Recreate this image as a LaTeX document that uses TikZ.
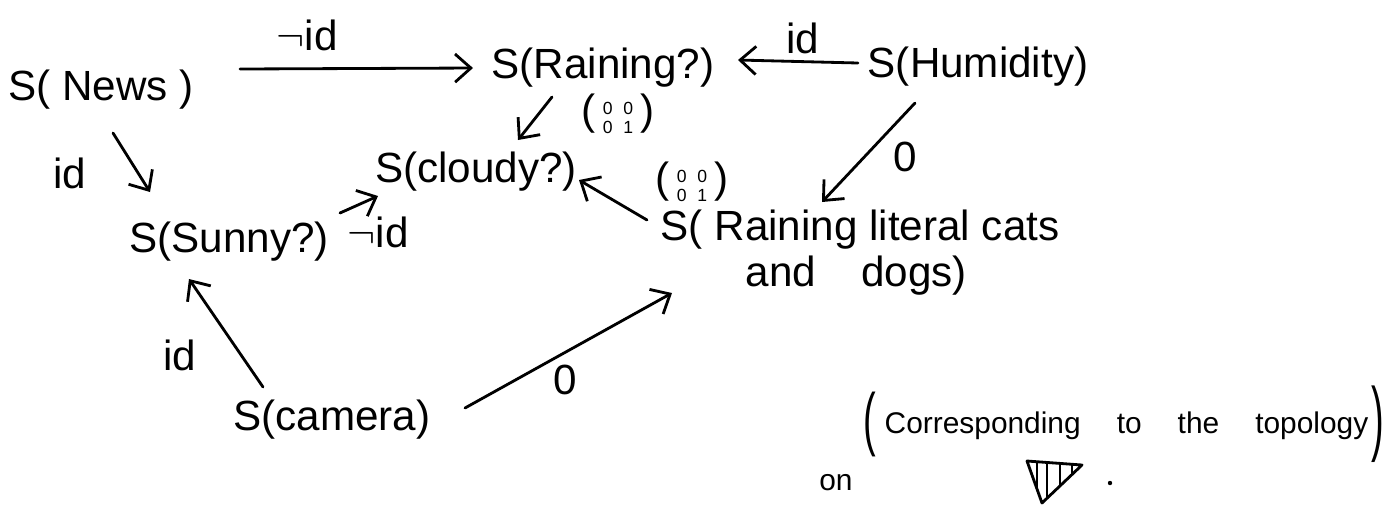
\documentclass[tikz,border=0pt]{standalone}
\usepackage{graphicx}
\usepackage{fontspec}
\setmainfont{Liberation Sans}
\usetikzlibrary{arrows.meta,calc}
\newcommand{\mymat}[4]{(\,{\fontsize{5}{6.5}\selectfont\renewcommand{\arraystretch}{0.85}\begin{tabular}{@{}c@{\hspace{3pt}}c@{}}#1&#2\\#3&#4\end{tabular}}\,)}
\begin{document}
\begin{tikzpicture}[x=0.01cm,y=-0.01cm,
  obj/.style={font=\fontsize{12}{13}\selectfont, inner sep=0pt, anchor=base},
  lbl/.style={font=\fontsize{12}{13}\selectfont, inner sep=0pt},
  note/.style={font=\fontsize{8.5}{10}\selectfont, inner sep=0pt, anchor=base},
  paren/.style={font=\fontsize{12}{12}\selectfont, inner sep=0pt},
  arr/.style={line width=0.8pt, line cap=round, -{Straight Barb[length=4.5pt,width=8pt]}},
  pen/.style={line width=0.8pt, line cap=round, line join=round},
]
\useasboundingbox (0,0) rectangle (1399,505);

% objects
\node[obj] (news)   at (101,100) {S( News )};
\node[obj] (rain)   at (603,78)  {S(Raining?)};
\node[obj] (hum)    at (978,77)  {S(Humidity)};
\node[obj] (cloudy) at (476,182) {S(cloudy?)};
\node[obj] (sunny)  at (229,252) {S(Sunny?)};
\node[obj] (camera) at (332,430) {S(camera)};
\node[obj, anchor=north west, align=left] (cats) at (660,209)
  {S( Raining literal cats\\\hspace*{0.85cm}and\hspace{0.45cm}dogs)};

% connectors
\draw[arr] ($(news.base)+(139,-31)$) -- ($(rain.base)+(-130,-10)$);
\draw[arr] ($(hum.base)+(-120,-14)$) -- ($(rain.base)+(135,-18)$);
\draw[arr] ($(rain.base)+(-51,19)$) -- ($(cloudy.base)+(42,-42)$);
\draw[arr] ($(cats.north west)+(-13,11)$) -- ($(cloudy.base)+(103,-2)$);
\draw[arr] ($(hum.base)+(-63,26)$) -- ($(cats.north west)+(162,-7)$);
\draw[arr] ($(news.base)+(12,33)$) -- ($(sunny.base)+(-79,-60)$);
\draw[arr] ($(sunny.base)+(111,-39)$) -- ($(cloudy.base)+(-98,14)$);
\draw[arr] ($(camera.base)+(-69,-43)$) -- ($(sunny.base)+(-40,27)$);
\draw[arr] ($(camera.base)+(133,-22)$) -- ($(cats.north west)+(12,84)$);

% labels
\node[lbl] (l1) at (307,35)  {$\neg$id};
\node[lbl] (l2) at (803,38)  {id};
\node[lbl] (l3) at (618,117) {\mymat{0}{0}{0}{1}};
\node[lbl] (l4) at (692,185) {\mymat{0}{0}{0}{1}};
\node[lbl] (l5) at (905,157) {0};
\node[lbl] (l6) at (70,173)  {id};
\node[lbl] (l7) at (378,232) {$\neg$id};
\node[lbl] (l8) at (180,355) {id};
\node[lbl] (l9) at (565,380) {0};

% annotation
\node[paren] (lp) at (870,424) {\scalebox{0.9}[1.65]{(}};
\node[paren] (rp) at (1378,424) {\scalebox{0.9}[1.95]{)}};
\node[note, anchor=base west] (ann) at (884,433)
  {Corresponding\hspace{0.36cm}to\hspace{0.36cm}the\hspace{0.36cm}topology};
\node[note] (on) at (836,490) {on};
\coordinate (ta) at (1027,461);
\coordinate (tb) at (1082,465);
\coordinate (tc) at (1042,503);
\begin{scope}
  \clip (ta) -- (tb) -- (tc) -- cycle;
  \foreach \x in {1037,1047,1060,1072}
    \draw[line width=0.6pt] (\x,455) -- (\x,505);
\end{scope}
\draw[pen] (ta) -- (tb) -- (tc) -- cycle;
\fill (1110,483) circle (2.2);
\end{tikzpicture}
\end{document}
